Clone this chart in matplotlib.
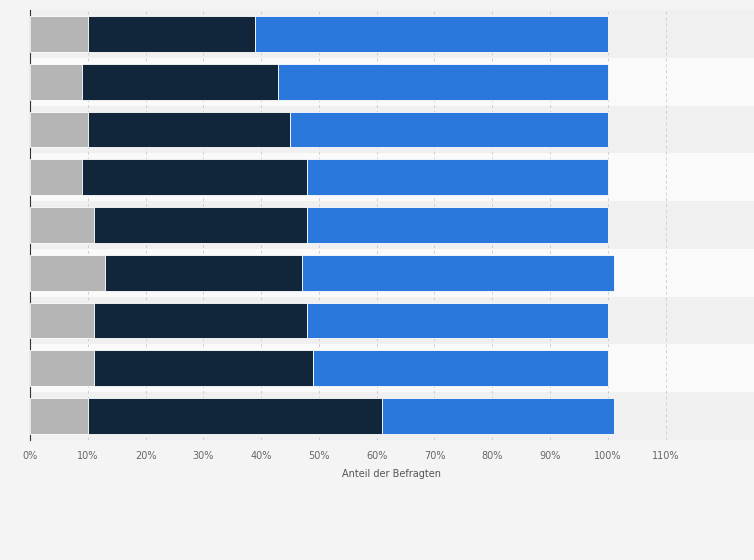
import matplotlib
matplotlib.use("Agg")
import matplotlib.pyplot as plt
import numpy as np

rows = list(range(9))
gray = [10, 9, 10, 9, 11, 13, 11, 11, 10]
dark = [29, 34, 35, 39, 37, 34, 37, 38, 51]
blue = [61, 57, 55, 52, 52, 54, 52, 51, 40]
ticks = list(range(0, 120, 10))
tick_labels = [f"{t}%" for t in ticks]

fig = plt.figure(figsize=(7.54, 5.60), dpi=100)
fig.patch.set_facecolor("#f4f4f4")
ax = fig.add_axes([30/754, 120/560, 724/754, 430/560])
ax.set_facecolor("#f4f4f4")

y = np.arange(len(rows))
for i in y:
    ax.axhspan(i - 0.5, i + 0.5, color="#f0f0f0" if i % 2 == 0 else "#fafafa", zorder=0, lw=0)

h = 0.75
g = np.array(gray); d = np.array(dark); b = np.array(blue)
ax.barh(y, g, height=h, color="#b5b5b5", edgecolor="white", lw=0.6, zorder=3)
ax.barh(y, d, left=g, height=h, color="#12263b", edgecolor="white", lw=0.6, zorder=3)
ax.barh(y, b, left=g + d, height=h, color="#2a78dc", edgecolor="white", lw=0.6, zorder=3)

ax.set_ylim(len(rows) - 0.5, -0.5)
ax.set_xlim(0, 125.3)
ax.set_xticks(ticks)
ax.set_xticklabels(tick_labels, fontsize=7, color="#666666")
ax.set_yticks([])
ax.tick_params(axis="x", length=0, pad=8)
ax.grid(axis="x", color="#d0d0d0", ls=(0, (3, 3)), lw=0.7, zorder=1)
for s in ["top", "right", "bottom"]:
    ax.spines[s].set_visible(False)
ax.spines["left"].set_color("#333333")
ax.set_xlabel("Anteil der Befragten", fontsize=7, color="#555555", labelpad=6)
fig.savefig("out.png", dpi=100, facecolor=fig.get_facecolor())
